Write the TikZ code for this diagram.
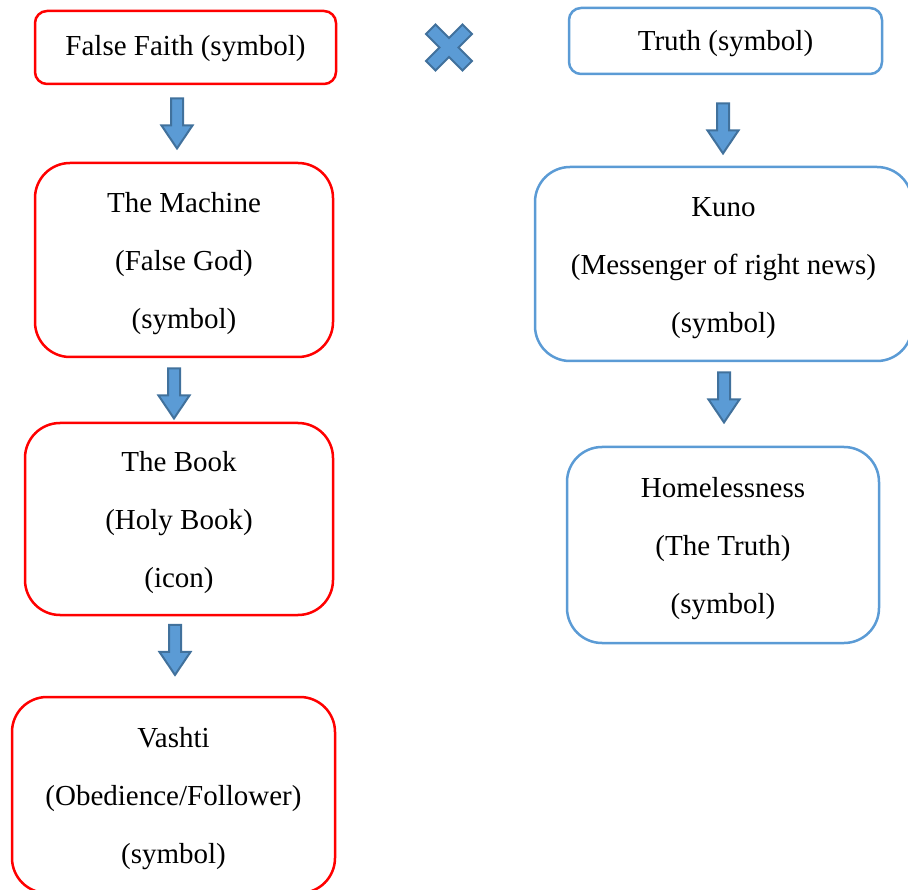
\documentclass[tikz,border=0pt]{standalone}
\usepackage{fontspec}
\setmainfont{Liberation Serif}
\usetikzlibrary{shapes.arrows}
\definecolor{boxred}{HTML}{FF0000}
\definecolor{boxblue}{HTML}{5B9BD5}
\definecolor{arrfill}{HTML}{5B9BD5}
\definecolor{arrline}{HTML}{41719C}
\begin{document}
\begin{tikzpicture}[x=1pt,y=-1pt,
  boxtext/.style={align=center, inner sep=0pt, font=\fontsize{29}{58}\selectfont},
  box/.style={draw, line width=2.5pt, inner sep=0pt},
  redbox/.style={box, draw=boxred},
  bluebox/.style={box, draw=boxblue},
  downarrow/.style={single arrow, fill=arrfill, draw=arrline, line width=2pt,
    minimum height=50pt, inner xsep=0pt, inner ysep=5pt, single arrow head extend=9.5pt,
    single arrow tip angle=68, rotate=-90, anchor=center}]
\useasboundingbox (0,0) rectangle (908,890);
% left column
\node[redbox, rounded corners=12pt, minimum width=301pt, minimum height=73pt,
  label={[boxtext, yshift=-1.5pt]center:False Faith (symbol)}] (ff) at (185.5,47.5) {};
\node[redbox, rounded corners=35pt, minimum width=298pt, minimum height=194pt,
  label={[boxtext, yshift=-4pt]center:The Machine\\(False God)\\(symbol)}] (machine) at (184,260) {};
\node[redbox, rounded corners=35pt, minimum width=308pt, minimum height=192pt,
  label={[boxtext, yshift=-4pt]center:The Book\\(Holy Book)\\(icon)}] (book) at (179,519) {};
\node[redbox, rounded corners=35pt, minimum width=323pt, minimum height=196pt,
  label={[boxtext, yshift=-4pt]center:Vashti\\(Obedience/Follower)\\(symbol)}] (vashti) at (173.5,795) {};
% right column
\node[bluebox, rounded corners=12pt, minimum width=313pt, minimum height=66pt,
  label={[boxtext, yshift=-3pt]center:Truth (symbol)}] (truth) at (725.5,41) {};
\node[bluebox, rounded corners=35pt, minimum width=377pt, minimum height=194pt,
  label={[boxtext, yshift=-4pt]center:Kuno\\(Messenger of right news)\\(symbol)}] (kuno) at (723.5,264) {};
\node[bluebox, rounded corners=35pt, minimum width=312pt, minimum height=196pt,
  label={[boxtext, yshift=-4pt]center:Homelessness\\(The Truth)\\(symbol)}] (home) at (723,545) {};
% block arrows
\node[downarrow] (a1) at (177,119) {};
\node[downarrow] (a2) at (174,389) {};
\node[downarrow] (a3) at (175,645.5) {};
\node[downarrow] (a4) at (723,124) {};
\node[downarrow] (a5) at (724,393) {};
% cross
\begin{scope}[shift={(449,47.5)}, rotate=45]
\def\ca{6.7}\def\cb{25.8}
\filldraw[fill=arrfill, draw=arrline, line width=2pt, line join=miter]
  (\ca,\cb) -- (-\ca,\cb) -- (-\ca,\ca) -- (-\cb,\ca) -- (-\cb,-\ca) -- (-\ca,-\ca)
  -- (-\ca,-\cb) -- (\ca,-\cb) -- (\ca,-\ca) -- (\cb,-\ca) -- (\cb,\ca) -- (\ca,\ca) -- cycle;
\end{scope}
\end{tikzpicture}
\end{document}
